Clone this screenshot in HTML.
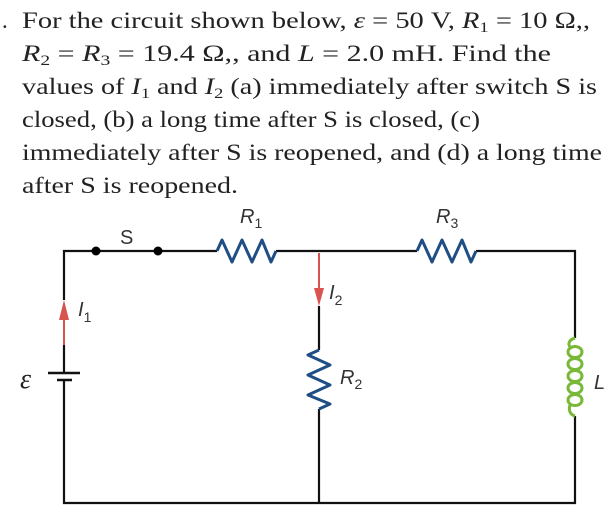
<!DOCTYPE html>
<html><head><meta charset="utf-8"><style>
html,body{margin:0;padding:0;background:#fff;}
svg{display:block;}
.t{font-family:"Liberation Serif",serif;font-size:23px;fill:#222;}
.s{font-family:"Liberation Sans",sans-serif;fill:#333;}
</style></head><body>
<svg width="616" height="508" viewBox="0 0 616 508" xmlns="http://www.w3.org/2000/svg">
<text class="t" x="2" y="28">.</text>
<text class="t" x="22" y="28" textLength="568" lengthAdjust="spacingAndGlyphs">For the circuit shown below, <tspan font-style="italic">ε</tspan> = 50 V, <tspan font-style="italic">R</tspan><tspan font-size="15" dy="4">1</tspan><tspan dy="-4"> = 10 Ω,,</tspan></text>
<text class="t" x="22" y="61" textLength="529" lengthAdjust="spacingAndGlyphs"><tspan font-style="italic">R</tspan><tspan font-size="15" dy="4">2</tspan><tspan dy="-4"> = </tspan><tspan font-style="italic">R</tspan><tspan font-size="15" dy="4">3</tspan><tspan dy="-4"> =  19.4 Ω,, and </tspan><tspan font-style="italic">L</tspan> = 2.0 mH. Find the</text>
<text class="t" x="22" y="94" textLength="575" lengthAdjust="spacingAndGlyphs">values of <tspan font-style="italic">I</tspan><tspan font-size="15" dy="4">1</tspan><tspan dy="-4"> and </tspan><tspan font-style="italic">I</tspan><tspan font-size="15" dy="4">2</tspan><tspan dy="-4"> (a) immediately after switch S is</tspan></text>
<text class="t" x="22" y="127" textLength="458" lengthAdjust="spacingAndGlyphs">closed, (b) a long time after S is closed, (c)</text>
<text class="t" x="22" y="160" textLength="580" lengthAdjust="spacingAndGlyphs">immediately after S is reopened, and (d) a long time</text>
<text class="t" x="22" y="193" textLength="216" lengthAdjust="spacingAndGlyphs">after S is reopened.</text>

<g stroke="#111" stroke-width="2.2" fill="none">
<path d="M64 300 V251 H217 M276 251 H417 M476 251 H575 V338 M575 416 V503 H64 V380 M64 373 V345"/>
<path d="M319 306 V350 M319 409 V503"/>
<path d="M48 373 H80 M57 380 H72" stroke-width="2.5"/>
</g>
<circle cx="96" cy="251" r="4.5" fill="#000"/>
<circle cx="158" cy="251" r="4.5" fill="#000"/>
<g stroke="#1f4e85" stroke-width="3" fill="none" stroke-linejoin="round">
<path d="M217 251 L222 240 L232 262 L242 240 L252 262 L262 240 L271 262 L276 251"/>
<path d="M417 251 L422 240 L432 262 L442 240 L452 262 L462 240 L471 262 L476 251"/>
<path d="M319 350 L308 355 L330 365 L308 375 L330 385 L308 395 L330 404 L319 409"/>
</g>
<g stroke="#7ab83a" stroke-width="3" fill="none">
<path d="M575 338 C568 340 567 346 572 348"/>
<ellipse cx="575" cy="352" rx="7" ry="5.5"/>
<ellipse cx="575" cy="364" rx="7" ry="5.5"/>
<ellipse cx="575" cy="376" rx="7" ry="5.5"/>
<ellipse cx="575" cy="388" rx="7" ry="5.5"/>
<ellipse cx="575" cy="400" rx="7" ry="5.5"/>
<path d="M570 405 C568 411 571 415 575 416"/>
</g>
<g stroke="#d9534f" stroke-width="2" fill="#d9534f">
<path d="M64 345 V318"/><path d="M64 300 L59 320 H69 Z" stroke="none"/>
<path d="M319 253 V290"/><path d="M319 306 L314 288 H324 Z" stroke="none"/>
</g>
<text class="s" x="120" y="244" font-size="20">S</text>
<text class="s" x="240" y="223" font-size="20" font-style="italic">R<tspan font-size="14" dy="5" font-style="normal">1</tspan></text>
<text class="s" x="436" y="223" font-size="20" font-style="italic">R<tspan font-size="14" dy="5" font-style="normal">3</tspan></text>
<text class="s" x="78" y="316" font-size="20" font-style="italic">I<tspan font-size="14" dy="6" font-style="normal">1</tspan></text>
<text class="s" x="329" y="299" font-size="20" font-style="italic">I<tspan font-size="14" dy="6" font-style="normal">2</tspan></text>
<text class="s" x="340" y="384" font-size="20" font-style="italic">R<tspan font-size="14" dy="5" font-style="normal">2</tspan></text>
<text class="s" x="594" y="389" font-size="20" font-style="italic">L</text>
<text x="20" y="388" font-size="28" font-family="Liberation Serif,serif" font-style="italic" fill="#222">ε</text>
</svg>
</body></html>
